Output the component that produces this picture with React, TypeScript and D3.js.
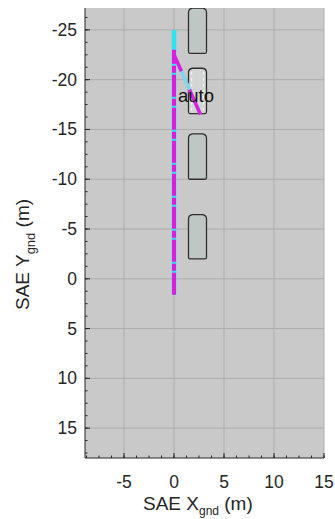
import React from 'react';
import * as d3 from 'd3';

// axes
const xTicks = [-5, 0, 5, 10, 15];
const yTicks = [-25, -20, -15, -10, -5, 0, 5, 10, 15];
const xDomain = [-8.9, 15];
const yDomain = [-27.2, 18];

// vehicles (centre x, centre y, length, width) in metres
const carX = [2.35, 2.35, 2.35, 2.35];
const carY = [-24.9, -18.85, -12.25, -4.2];
const carLen = [4.5, 4.5, 4.5, 4.4];
const carWid = [1.8, 1.8, 1.8, 1.8];
const egoIdx = 1;

// planned path (cyan) and driven path (magenta)
const planX = [0, 0];
const planY = [1.6, -25.0];
const pathX = [0, 0];
const pathY = [1.6, -23.0];
const turnX = [0.05, 2.65];
const turnY = [-22.4, -16.5];

const W = 335;
const H = 519;
const left = 85, right = 324, top = 8, bottom = 458;

export default function App() {
  const x = d3.scaleLinear().domain(xDomain).range([left, right]);
  const y = d3.scaleLinear().domain(yDomain).range([top, bottom]);

  const minorX = d3.range(-8.75, 15.01, 1.25);
  const minorY = d3.range(-27.5, 18.01, 1.25).filter(v => v >= yDomain[0] && v <= yDomain[1]);

  const line = d3.line<[number, number]>().x(d => x(d[0])).y(d => y(d[1]));
  const zip = (a: number[], b: number[]) => a.map((v, i) => [v, b[i]] as [number, number]);

  const carPath = (i: number) => {
    const x0 = x(carX[i] - carWid[i] / 2), x1 = x(carX[i] + carWid[i] / 2);
    const y0 = y(carY[i] - carLen[i] / 2), y1 = y(carY[i] + carLen[i] / 2);
    const rt = 4, rb = 1.5;
    return `M${x0},${y1 - rb} L${x0},${y0 + rt} Q${x0},${y0} ${x0 + rt},${y0 - 0.5}
      L${x1 - rt},${y0 - 0.5} Q${x1},${y0} ${x1},${y0 + rt} L${x1},${y1 - rb}
      Q${x1},${y1} ${x1 - rb},${y1} L${x0 + rb},${y1} Q${x0},${y1} ${x0},${y1 - rb} Z`;
  };

  const font = 'Liberation Sans, Arial, sans-serif';
  const txt = '#262626';

  return (
    <svg width={W} height={H} style={{ position: 'absolute', left: 0, top: 0, background: '#fff' }}>
      <defs>
        <clipPath id="plot"><rect x={left} y={top} width={right - left} height={bottom - top} /></clipPath>
      </defs>
      <rect x={left} y={top} width={right - left} height={bottom - top} fill="#c9c9c9" />
      {/* grid */}
      {xTicks.map(t => (
        <line key={'gx' + t} x1={x(t)} x2={x(t)} y1={top} y2={bottom} stroke="#adadad" strokeWidth={1} />
      ))}
      {yTicks.map(t => (
        <line key={'gy' + t} x1={left} x2={right} y1={y(t)} y2={y(t)} stroke="#adadad" strokeWidth={1} />
      ))}

      <g clipPath="url(#plot)">
        {carX.map((_, i) => (
          <g key={'car' + i}>
            <path d={carPath(i)} fill={i === egoIdx ? '#d3d6d5' : '#bfc7c4'} stroke="#2e2e2e" strokeWidth={1.3} />
            {i === egoIdx && (
              <g stroke="#f4f4f4" strokeWidth={1.2} strokeDasharray="3 3" fill="none">
                <line x1={x(carX[i] - carWid[i] / 2) + 3} x2={x(carX[i] - carWid[i] / 2) + 3}
                  y1={y(carY[i] - carLen[i] / 2) + 3} y2={y(carY[i] + carLen[i] / 2) - 3} />
                <line x1={x(carX[i] + carWid[i] / 2) - 3} x2={x(carX[i] + carWid[i] / 2) - 3}
                  y1={y(carY[i] - carLen[i] / 2) + 3} y2={y(carY[i] + carLen[i] / 2) - 3} />
              </g>
            )}
          </g>
        ))}

        {/* planned path */}
        <path d={line(zip(planX, planY)) || ''} fill="none" stroke="#2de6f0" strokeWidth={4.5} />
        <path d={line(zip(turnX, turnY)) || ''} fill="none" stroke="#7fd6f0" strokeWidth={3.5} />
        {/* driven path */}
        <path d={line(zip(pathX, pathY)) || ''} fill="none" stroke="#d91ee0" strokeWidth={4}
          strokeDasharray="22 2 7 2" />
        <path d={line(zip(turnX, turnY)) || ''} fill="none" stroke="#d91ee0" strokeWidth={3.5}
          strokeDasharray="17 20 200" />

        <text x={x(0.4)} y={y(-17.8)} fontFamily={font} fontSize={18.5} fill="#111">auto</text>
      </g>

      {/* axes */}
      <line x1={left} x2={left} y1={top} y2={bottom} stroke={txt} strokeWidth={1} />
      <line x1={left} x2={right} y1={bottom} y2={bottom} stroke={txt} strokeWidth={1} />
      {minorX.map(t => (
        <line key={'mx' + t} x1={x(t)} x2={x(t)} y1={bottom} y2={bottom - 2.5} stroke={txt} />
      ))}
      {xTicks.map(t => (
        <line key={'tx' + t} x1={x(t)} x2={x(t)} y1={bottom} y2={bottom - 5} stroke={txt} />
      ))}
      {minorY.map(t => (
        <line key={'my' + t} x1={left} x2={left + 2.5} y1={y(t)} y2={y(t)} stroke={txt} />
      ))}
      {yTicks.map(t => (
        <line key={'ty' + t} x1={left} x2={left + 5} y1={y(t)} y2={y(t)} stroke={txt} />
      ))}

      {xTicks.map(t => (
        <text key={'lx' + t} x={x(t)} y={488} textAnchor="middle" fontFamily={font} fontSize={17.5} fill={txt}>{t}</text>
      ))}
      {yTicks.map(t => (
        <text key={'ly' + t} x={77} y={y(t) + 6} textAnchor="end" fontFamily={font} fontSize={17.5} fill={txt}>{t}</text>
      ))}

      <text x={143} y={510} fontFamily={font} fontSize={19} fill={txt}>
        SAE X<tspan dy={5} fontSize={12}>gnd</tspan><tspan dy={-5}> (m)</tspan>
      </text>
      <text transform="translate(29,310) rotate(-90)" fontFamily={font} fontSize={19} fill={txt}>
        SAE Y<tspan dy={6} fontSize={13}>gnd</tspan><tspan dy={-6}> (m)</tspan>
      </text>
    </svg>
  );
}
